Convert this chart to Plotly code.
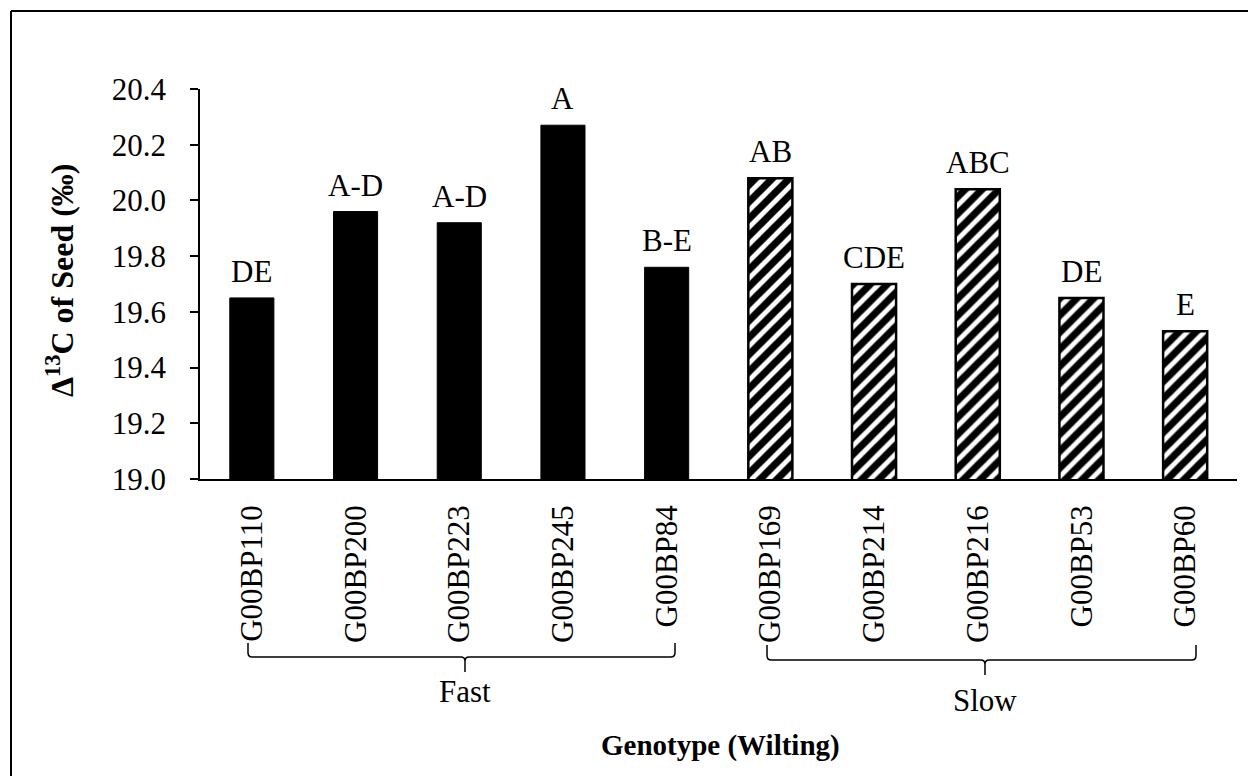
import plotly.graph_objects as go

# Seed carbon isotope discrimination by genotype, grouped by wilting type
fast_genotypes = ["G00BP110", "G00BP200", "G00BP223", "G00BP245", "G00BP84"]
fast_values = [19.65, 19.96, 19.92, 20.27, 19.76]
fast_letters = ["DE", "A-D", "A-D", "A", "B-E"]

slow_genotypes = ["G00BP169", "G00BP214", "G00BP216", "G00BP53", "G00BP60"]
slow_values = [20.08, 19.70, 20.04, 19.65, 19.53]
slow_letters = ["AB", "CDE", "ABC", "DE", "E"]

group_names = ["Fast", "Slow"]
y_ticks = [19.0, 19.2, 19.4, 19.6, 19.8, 20.0, 20.2, 20.4]

FONT = "Liberation Serif"
W, H = 1248, 776
ML, MR, MT, MB = 200, 11, 89, 297
PW, PH = W - ML - MR, H - MT - MB


def px(x):
    return (x - ML) / PW


def py(y):
    return (H - MB - y) / PH


fig = go.Figure()
fig.add_trace(go.Bar(
    x=fast_genotypes, y=fast_values, name=group_names[0],
    marker=dict(color="black", line=dict(color="black", width=1)),
))
fig.add_trace(go.Bar(
    x=slow_genotypes, y=slow_values, name=group_names[1],
    marker=dict(color="white", line=dict(color="black", width=2.5),
                pattern=dict(shape="/", fgcolor="#000000", bgcolor="white",
                             fgopacity=1, fillmode="replace",
                             size=12, solidity=0.6)),
))

annotations = []
# significance letters above each bar
for cats, vals, letters in [(fast_genotypes, fast_values, fast_letters),
                            (slow_genotypes, slow_values, slow_letters)]:
    for c, v, t in zip(cats, vals, letters):
        annotations.append(dict(
            x=c, y=v, xref="x", yref="y", text=t, showarrow=False,
            yanchor="bottom", yshift=7,
            font=dict(family=FONT, size=31, color="black")))


def brace(x0, x1, xm, y_line, y_top, y_down):
    r = 0.004
    ry = (y_top - y_line) * 0.3
    return (f"M {x0},{y_top} L {x0},{y_line + ry} Q {x0},{y_line} {x0 + r},{y_line} "
            f"L {xm - r},{y_line} Q {xm},{y_line} {xm},{y_line - ry} L {xm},{y_down} "
            f"M {xm},{y_line - ry} Q {xm},{y_line} {xm + r},{y_line} "
            f"L {x1 - r},{y_line} Q {x1},{y_line} {x1},{y_line + ry} L {x1},{y_top}")


shapes = [
    dict(type="path", xref="paper", yref="paper",
         path=brace(px(248), px(675), px(465), py(657), py(643), py(672)),
         line=dict(color="black", width=1.5)),
    dict(type="path", xref="paper", yref="paper",
         path=brace(px(767), px(1196), px(985), py(660), py(645), py(675)),
         line=dict(color="black", width=1.5)),
    # outer frame (left and top edges)
    dict(type="line", xref="paper", yref="paper",
         x0=px(11), x1=px(11), y0=py(11), y1=py(H + 10),
         line=dict(color="black", width=2)),
    dict(type="line", xref="paper", yref="paper",
         x0=px(11), x1=px(W + 10), y0=py(11), y1=py(11),
         line=dict(color="black", width=2)),
]

annotations += [
    dict(x=px(465), y=py(692), xref="paper", yref="paper", text=group_names[0],
         showarrow=False, xanchor="center", yanchor="middle",
         font=dict(family=FONT, size=31, color="black")),
    dict(x=px(985), y=py(700), xref="paper", yref="paper", text=group_names[1],
         showarrow=False, xanchor="center", yanchor="middle",
         font=dict(family=FONT, size=31, color="black")),
    dict(x=px(720), y=py(745), xref="paper", yref="paper",
         text="<b>Genotype (Wilting)</b>", showarrow=False,
         xanchor="center", yanchor="middle",
         font=dict(family=FONT, size=29, color="black")),
    dict(x=px(60), y=py(280), xref="paper", yref="paper",
         text="<b>Δ<sup>13</sup>C of Seed (‰)</b>", showarrow=False,
         textangle=-90, xanchor="center", yanchor="middle",
         font=dict(family=FONT, size=32, color="black")),
]

fig.update_layout(
    width=W, height=H,
    margin=dict(l=ML, r=MR, t=MT, b=MB, pad=0),
    paper_bgcolor="white", plot_bgcolor="white",
    barmode="overlay", bargap=0.575,
    showlegend=False,
    font=dict(family=FONT, size=31, color="black"),
    shapes=shapes, annotations=annotations,
)
fig.update_xaxes(
    type="category", categoryorder="array",
    categoryarray=fast_genotypes + slow_genotypes,
    showline=True, linecolor="black", linewidth=1.5,
    ticks="", tickangle=-90, ticklabelstandoff=12,
    tickfont=dict(family=FONT, size=31, color="black"),
    showgrid=False, zeroline=False,
)
fig.update_yaxes(
    range=[19.0, 20.4], tickvals=y_ticks, tickformat=".1f",
    showline=True, linecolor="black", linewidth=1.5,
    ticks="outside", ticklen=8, tickwidth=1.5, tickcolor="black",
    ticklabelstandoff=18,
    tickfont=dict(family=FONT, size=31, color="black"),
    showgrid=False, zeroline=False,
)

fig.write_html("out.html")
